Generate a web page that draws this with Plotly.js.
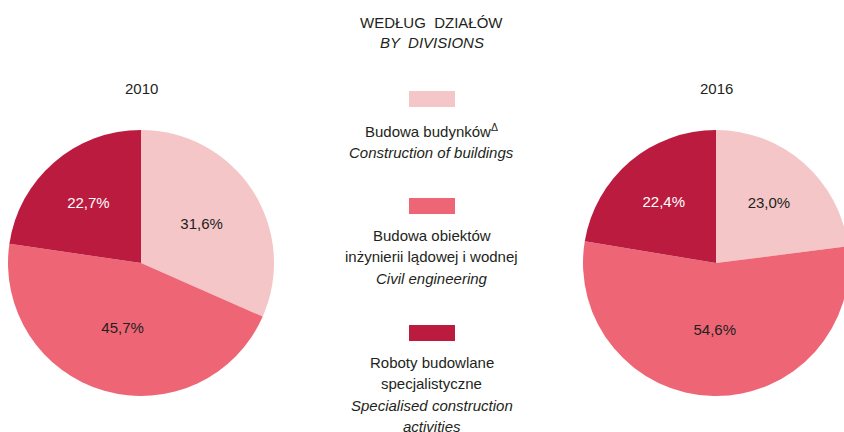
<!DOCTYPE html>
<html>
<head>
<meta charset="utf-8">
<script src="https://cdn.plot.ly/plotly-3.0.1.min.js"></script>
<style>
html,body{margin:0;padding:0;overflow:hidden;background:#fff;}
#chart{width:850px;height:432px;}
</style>
</head>
<body>
<div id="chart"></div>
<script>
// ---- data ----
const categories = ["Budowa budynków", "Budowa obiektów inżynierii lądowej i wodnej", "Roboty budowlane specjalistyczne"];
const years = ["2010", "2016"];
const values2010 = [31.6, 45.7, 22.7];
const values2016 = [23.0, 54.6, 22.4];
const labels2010 = ["31,6%", "45,7%", "22,7%"];
const labels2016 = ["23,0%", "54,6%", "22,4%"];
const legendPolish = [["Budowa budynków<sup>Δ</sup>"], ["Budowa obiektów", "inżynierii lądowej i wodnej"], ["Roboty budowlane", "specjalistyczne"]];
const legendEnglish = [["Construction of buildings"], ["Civil engineering"], ["Specialised construction", "activities"]];
const titleLines = ["WEDŁUG  DZIAŁÓW", "BY  DIVISIONS"];

// ---- styles ----
const colors = ["#F4C6C7", "#EE6675", "#BC1B40"];
const textColors = ["#231F20", "#231F20", "#FFFFFF"];
const FONT = "Liberation Sans, Arial, Helvetica, sans-serif";
const W = 850, H = 432;
const fx = p => p / W;
const fy = p => 1 - p / H;

function pie(vals, txt, cx, cy, r) {
  return {
    type: "pie",
    values: vals,
    labels: categories,
    text: txt,
    textinfo: "text",
    textposition: "inside",
    insidetextorientation: "horizontal",
    insidetextfont: {family: FONT, size: 15, color: textColors},
    marker: {colors: colors, line: {width: 0}},
    sort: false,
    direction: "clockwise",
    rotation: 0,
    hoverinfo: "none",
    showlegend: false,
    domain: {x: [fx(cx - r), fx(cx + r)], y: [fy(cy + r), fy(cy - r)]}
  };
}

const data = [
  pie(values2010, labels2010, 141, 263, 133),
  pie(values2016, labels2016, 716, 263, 133)
];

const annotations = [];
const shapes = [];
function ann(text, x, y, italic) {
  annotations.push({
    text: text, xref: "paper", yref: "paper", x: fx(x), y: fy(y),
    xanchor: "center", yanchor: "middle", showarrow: false,
    font: {family: FONT, size: 15, color: "#231F20", style: italic ? "italic" : "normal"}
  });
}
ann(titleLines[0], 432, 22, false);
ann(titleLines[1], 432, 43, true);
ann(years[0], 141, 88, false);
ann(years[1], 716, 88, false);

const boxTop = [91, 198, 325];
const textStart = [131, 235, 362];
const lineH = 21.5;
for (let i = 0; i < categories.length; i++) {
  shapes.push({type: "rect", xref: "paper", yref: "paper",
    x0: fx(409), x1: fx(455), y0: fy(boxTop[i] + 16), y1: fy(boxTop[i]),
    fillcolor: colors[i], line: {width: 0}});
  let y = textStart[i];
  legendPolish[i].forEach(t => { ann(t, 432, y, false); y += lineH; });
  legendEnglish[i].forEach(t => { ann(t, 432, y, true); y += lineH; });
}

const layout = {
  width: W, height: H,
  margin: {l: 0, r: 0, t: 0, b: 0},
  paper_bgcolor: "#FFFFFF",
  plot_bgcolor: "#FFFFFF",
  font: {family: FONT, size: 15, color: "#231F20"},
  annotations: annotations,
  shapes: shapes
};

Plotly.newPlot("chart", data, layout, {staticPlot: true, displayModeBar: false});
</script>
</body>
</html>
